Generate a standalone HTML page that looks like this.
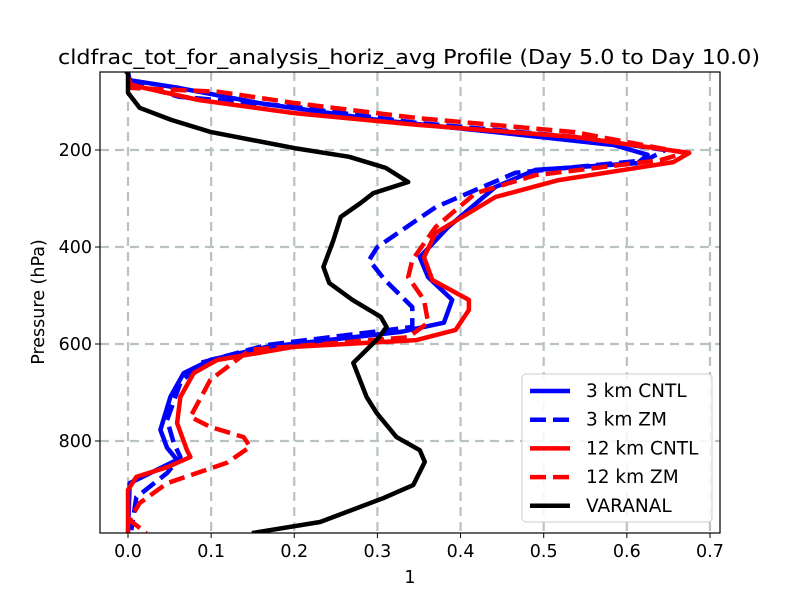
<!DOCTYPE html>
<html><head><meta charset="utf-8"><style>
body{margin:0;background:#fff;font-family:"Liberation Sans","DejaVu Sans",sans-serif}
</style></head><body>
<svg id="chart" width="800" height="600" xmlns="http://www.w3.org/2000/svg" font-family="DejaVu Sans, Liberation Sans, sans-serif">
<rect width="800" height="600" fill="#fff"/>
<text x="409" y="64" font-size="20" textLength="702" lengthAdjust="spacingAndGlyphs" text-anchor="middle">cldfrac_tot_for_analysis_horiz_avg Profile (Day 5.0 to Day 10.0)</text>
<g id="grid"></g><g id="series"></g><g id="axes"></g>
<text x="410" y="583" font-size="17.5" text-anchor="middle">1</text>
<text x="44" y="302" font-size="17.5" text-anchor="middle" transform="rotate(-90 44 302)">Pressure (hPa)</text>
<g id="legend"></g>
</svg>
<script>
const xTicks=[0.0,0.1,0.2,0.3,0.4,0.5,0.6,0.7];
const yTicks=[200,400,600,800];
const seriesNames=["3 km CNTL","3 km ZM","12 km CNTL","12 km ZM","VARANAL"];
const cntl3P=[40,56,72,103,138,163,190,210,227,241,276,359,421,462,509,556,575,606,633,660,709,777,814,839,887,990];
const cntl3V=[0.0,0.002,0.061,0.157,0.30,0.442,0.585,0.625,0.613,0.49,0.442,0.385,0.351,0.361,0.39,0.38,0.328,0.167,0.099,0.067,0.051,0.039,0.047,0.059,0.002,0.0];
const zm3P=[60,90,111,144,173,200,221,247,318,400,427,468,524,565,602,639,680,757,804,833,866,916,984];
const zm3V=[0.0,0.061,0.2,0.347,0.537,0.646,0.623,0.466,0.37,0.3,0.29,0.309,0.342,0.342,0.167,0.087,0.063,0.047,0.055,0.063,0.047,0.01,0.004];
const cntl12P=[50,66,97,124,148,173,206,225,262,297,371,421,468,509,530,571,592,606,633,660,709,763,819,833,854,874,901,990];
const cntl12V=[0.0,0.004,0.085,0.2,0.347,0.537,0.675,0.656,0.518,0.442,0.37,0.356,0.366,0.41,0.41,0.394,0.347,0.199,0.107,0.079,0.063,0.059,0.071,0.075,0.047,0.01,0.0,0.0];
const zm12P=[60,72,80,103,134,163,206,221,252,289,359,427,462,509,556,586,612,674,750,771,792,812,845,887,928,963,990];
const zm12V=[0.0,0.004,0.109,0.2,0.347,0.537,0.67,0.64,0.49,0.418,0.37,0.342,0.337,0.356,0.361,0.337,0.147,0.099,0.075,0.099,0.139,0.147,0.119,0.047,0.014,0.002,0.022];
const varP=[38,41,82,113,138,163,196,214,237,266,289,309,338,386,441,474,509,544,565,590,639,709,742,792,819,843,891,918,967,990];
const varV=[-0.003,0.0,0.0,0.014,0.052,0.10,0.2,0.266,0.31,0.337,0.295,0.28,0.256,0.247,0.235,0.242,0.27,0.304,0.311,0.30,0.271,0.287,0.299,0.323,0.351,0.357,0.343,0.307,0.231,0.149];
const L=100,R=720,T=72,B=533,X0=128,XS=831.4;
const xs=v=>X0+v*XS, ys=p=>150+(p-200)*0.485;
const NS="http://www.w3.org/2000/svg";
function mk(tag,attrs,parent){const e=document.createElementNS(NS,tag);for(const k in attrs)e.setAttribute(k,attrs[k]);parent.appendChild(e);return e;}
const grid=document.getElementById('grid'),axes=document.getElementById('axes'),ser=document.getElementById('series'),leg=document.getElementById('legend');
xTicks.forEach(t=>{
 const g=mk('line',{x1:xs(t),x2:xs(t),y1:T,y2:B,stroke:'#b8c2c4','stroke-width':2.2,'stroke-dasharray':'9,6'},grid);
 
 
 mk('line',{x1:xs(t),x2:xs(t),y1:B,y2:B+5,stroke:'#000'},axes);
 const tx=mk('text',{x:xs(t),y:B+24,'font-size':17.5,'text-anchor':'middle'},axes);tx.textContent=t.toFixed(1);
 
 
});
yTicks.forEach(t=>{
 const g=mk('line',{x1:L,x2:R,y1:ys(t),y2:ys(t),stroke:'#b8c2c4','stroke-width':2.2,'stroke-dasharray':'9,6'},grid);
 
 
 mk('line',{x1:L-5,x2:L,y1:ys(t),y2:ys(t),stroke:'#000'},axes);
 const tx=mk('text',{x:L-8,y:ys(t)+6,'font-size':17.5,'text-anchor':'end'},axes);tx.textContent=t;
 
 
});
const clip=mk('clipPath',{id:'cp'},ser);mk('rect',{x:L,y:T,width:R-L,height:B-T},clip);
const defs=[[cntl3P,cntl3V,'#0000ff',''],[zm3P,zm3V,'#0000ff','16,7'],[cntl12P,cntl12V,'#ff0000',''],[zm12P,zm12V,'#ff0000','16,7'],[varP,varV,'#000','']];
const names=['line-3km-cntl','line-3km-zm','line-12km-cntl','line-12km-zm','line-varanal'];
defs.forEach((d,i)=>{
 const pts=d[0].map((p,j)=>xs(d[1][j]).toFixed(1)+','+ys(p).toFixed(1)).join(' ');
 const pl=mk('polyline',{points:pts,fill:'none',stroke:d[2],'stroke-width':4.5,'stroke-linejoin':'round','clip-path':'url(#cp)'},ser);
 if(d[3])pl.setAttribute('stroke-dasharray',d[3]);
 
 
});
mk('rect',{x:L,y:T,width:R-L,height:B-T,fill:'none',stroke:'#000','stroke-width':1.2},axes);
const lb=mk('rect',{x:522,y:374,width:190,height:148,rx:4,fill:'#fff','fill-opacity':0.85,stroke:'#ccc'},leg);


seriesNames.forEach((n,i)=>{
 const y=391+i*28.7;
 const l=mk('line',{x1:530,x2:570,y1:y,y2:y,stroke:defs[i][2],'stroke-width':4.5},leg);
 if(defs[i][3])l.setAttribute('stroke-dasharray','16,7');
 
 
 const t=mk('text',{x:586,y:y+6,'font-size':18.5},leg);t.textContent=n;
 
 
});
</script>
</body></html>
